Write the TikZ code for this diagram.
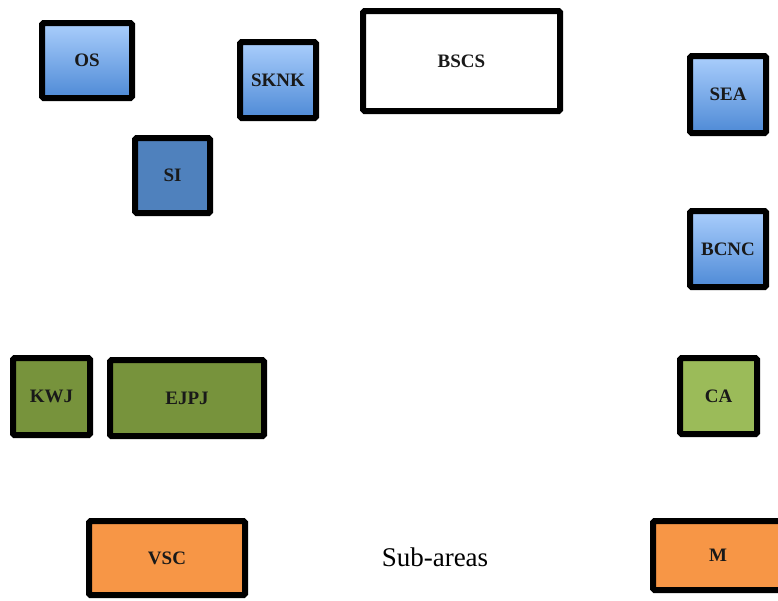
\documentclass[tikz,border=0pt]{standalone}
\usepackage{fontspec}
\setmainfont{Liberation Serif}
\definecolor{blueTop}{RGB}{170,206,252}
\definecolor{blueBot}{RGB}{78,138,214}
\definecolor{steel}{RGB}{79,129,189}
\definecolor{olive}{RGB}{119,147,60}
\definecolor{lgreen}{RGB}{155,187,89}
\definecolor{orng}{RGB}{247,150,70}
\tikzset{
  box/.style={draw=black, line width=6pt, rounded corners=1.5pt, inner sep=0pt,
    font=\fontsize{19}{21}\selectfont\bfseries, text=black!90},
  gradblue/.style={box, top color=blueTop, bottom color=blueBot},
  solidblue/.style={box, fill=steel},
  darkgreen/.style={box, fill=olive},
  lightgreen/.style={box, fill=lgreen},
  orangebox/.style={box, fill=orng},
  whitebox/.style={box, fill=white}
}
\newcommand{\bx}[6]{\node[#1, minimum width=#4pt-6pt, minimum height=#5pt-6pt] (#2) at (#3) {#6};}
\begin{document}
\begin{tikzpicture}[x=1pt,y=-1pt]
\useasboundingbox (0,0) rectangle (778,600);
\bx{gradblue}{os}{87,60.5}{96}{81}{OS}
\bx{gradblue}{sknk}{278,80}{82}{82}{SKNK}
\bx{solidblue}{si}{172.5,175.5}{81}{81}{SI}
\bx{whitebox}{bscs}{461.5,61}{203}{106}{BSCS}
\bx{gradblue}{sea}{728,94.5}{82}{83}{SEA}
\bx{gradblue}{bcnc}{728,249}{82}{82}{BCNC}
\bx{darkgreen}{kwj}{51.5,396.5}{83}{83}{KWJ}
\bx{darkgreen}{ejpj}{187,398}{160}{82}{EJPJ}
\bx{lightgreen}{ca}{718.5,396}{83}{82}{CA}
\bx{orangebox}{vsc}{167,558}{162}{80}{VSC}
\bx{orangebox}{m}{718,555.5}{136}{75}{M}
\node[font=\fontsize{27}{30}\selectfont, inner sep=0pt] (sub) at (435,557) {Sub-areas};
\end{tikzpicture}
\end{document}
